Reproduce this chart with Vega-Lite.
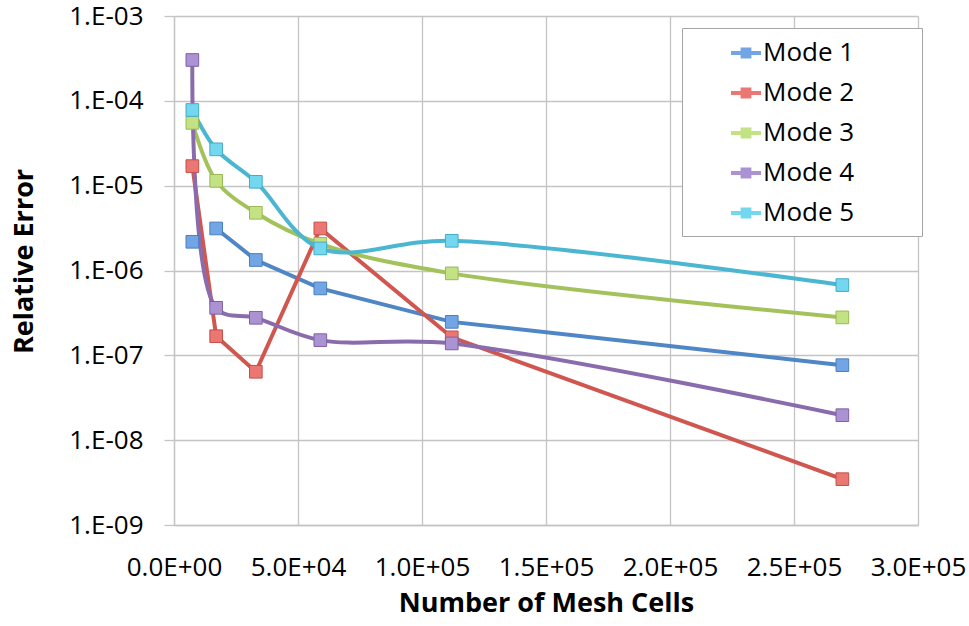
{
  "$schema": "https://vega.github.io/schema/vega-lite/v6.json",
  "width": 744,
  "height": 509,
  "autosize": {"type": "none"},
  "padding": {"left": 174, "top": 16, "right": 51, "bottom": 101},
  "background": "white",
  "config": {
    "view": {"stroke": null},
    "axis": {
      "labelFont": "Open Sans",
      "labelFontSize": 26,
      "labelColor": "black",
      "titleFont": "Open Sans",
      "titleFontSize": 27,
      "titleFontWeight": "bold",
      "titleColor": "black",
      "gridColor": "#c4c4c4",
      "gridWidth": 1.3,
      "gridOpacity": 1,
      "domainColor": "#c4c4c4",
      "domainWidth": 1.3,
      "tickColor": "#c4c4c4",
      "tickWidth": 1.3
    },
    "legend": {
      "title": null,
      "orient": "none",
      "legendX": 508,
      "legendY": 12,
      "padding": 10,
      "strokeColor": "#a6a6a6",
      "fillColor": "white",
      "labelFont": "Open Sans",
      "labelFontSize": 26,
      "labelColor": "black",
      "labelOffset": 2,
      "labelLimit": 400,
      "symbolType": "M-1,-0.13H-0.36V-0.36H0.36V-0.13H1V0.13H0.36V0.36H-0.36V0.13H-1Z",
      "symbolSize": 900,
      "symbolOffset": 39,
      "rowPadding": 12,
      "symbolStrokeWidth": 0
    }
  },
  "data": {
    "values": [
      {"mode": "Mode 1", "x": 7400, "y": 2.18e-6, "seg": "a"},
      {"mode": "Mode 1", "x": 17000, "y": 3.13e-6, "seg": "b"},
      {"mode": "Mode 1", "x": 33000, "y": 1.33e-6, "seg": "b"},
      {"mode": "Mode 1", "x": 59000, "y": 6.15e-7, "seg": "b"},
      {"mode": "Mode 1", "x": 112000, "y": 2.48e-7, "seg": "b"},
      {"mode": "Mode 1", "x": 269500, "y": 7.66e-8, "seg": "b"},
      {"mode": "Mode 2", "x": 7400, "y": 1.70e-5, "seg": "b"},
      {"mode": "Mode 2", "x": 17000, "y": 1.68e-7, "seg": "b"},
      {"mode": "Mode 2", "x": 33000, "y": 6.4e-8, "seg": "b"},
      {"mode": "Mode 2", "x": 59000, "y": 3.13e-6, "seg": "b"},
      {"mode": "Mode 2", "x": 112000, "y": 1.63e-7, "seg": "b"},
      {"mode": "Mode 2", "x": 269500, "y": 3.47e-9, "seg": "b"},
      {"mode": "Mode 3", "x": 7400, "y": 5.5e-5, "seg": "b"},
      {"mode": "Mode 3", "x": 17000, "y": 1.14e-5, "seg": "b"},
      {"mode": "Mode 3", "x": 33000, "y": 4.79e-6, "seg": "b"},
      {"mode": "Mode 3", "x": 59000, "y": 2.06e-6, "seg": "b"},
      {"mode": "Mode 3", "x": 112000, "y": 9.25e-7, "seg": "b"},
      {"mode": "Mode 3", "x": 269500, "y": 2.80e-7, "seg": "b"},
      {"mode": "Mode 4", "x": 7400, "y": 3.03e-4, "seg": "b"},
      {"mode": "Mode 4", "x": 17000, "y": 3.63e-7, "seg": "b"},
      {"mode": "Mode 4", "x": 33000, "y": 2.77e-7, "seg": "b"},
      {"mode": "Mode 4", "x": 59000, "y": 1.51e-7, "seg": "b"},
      {"mode": "Mode 4", "x": 112000, "y": 1.38e-7, "seg": "b"},
      {"mode": "Mode 4", "x": 269500, "y": 1.97e-8, "seg": "b"},
      {"mode": "Mode 5", "x": 7400, "y": 7.8e-5, "seg": "b"},
      {"mode": "Mode 5", "x": 17000, "y": 2.68e-5, "seg": "b"},
      {"mode": "Mode 5", "x": 33000, "y": 1.11e-5, "seg": "b"},
      {"mode": "Mode 5", "x": 59000, "y": 1.82e-6, "seg": "b"},
      {"mode": "Mode 5", "x": 112000, "y": 2.24e-6, "seg": "b"},
      {"mode": "Mode 5", "x": 269500, "y": 6.73e-7, "seg": "b"}
    ]
  },
  "encoding": {
    "x": {
      "field": "x",
      "type": "quantitative",
      "scale": {"domain": [0, 300000], "nice": false, "zero": false},
      "axis": {
        "title": "Number of Mesh Cells",
        "values": [0, 50000, 100000, 150000, 200000, 250000, 300000],
        "labelExpr": "replace(format(datum.value, '.1e'), 'e+', 'E+0')",
        "ticks": false,
        "labelPadding": 29,
        "titlePadding": 10,
        "labelFlush": false
      }
    },
    "y": {
      "field": "y",
      "type": "quantitative",
      "scale": {"type": "log", "domain": [1e-9, 1e-3], "nice": false},
      "axis": {
        "title": "Relative Error",
        "values": [1e-9, 1e-8, 1e-7, 1e-6, 1e-5, 1e-4, 1e-3],
        "labelExpr": "replace(format(datum.value, '.0e'), 'e-', '.E-0')",
        "tickSize": 10,
        "labelPadding": 21,
        "titlePadding": 30,
        "titleY": 245,
        "labelFlush": false
      }
    },
    "color": {
      "field": "mode",
      "type": "nominal",
      "scale": {
        "domain": ["Mode 1", "Mode 2", "Mode 3", "Mode 4", "Mode 5"],
        "range": ["#4f86c6", "#cf574f", "#a3c25c", "#8a6cad", "#4bb6d2"]
      },
      "legend": {
        "labelExpr": "datum.label + '\u2800\u2800\u2800'",
        "encode": {
          "symbols": {
            "update": {
              "fill": {"scale": "color", "field": "value"},
              "stroke": {"value": "transparent"},
              "opacity": {"value": 1}
            }
          }
        }
      }
    }
  },
  "layer": [
    {
      "transform": [{"filter": "datum.mode === 'Mode 1' || datum.mode === 'Mode 2'"}],
      "mark": {"type": "line", "interpolate": "linear", "strokeWidth": 4},
      "encoding": {"detail": {"field": "seg"}}
    },
    {
      "transform": [{"filter": "datum.mode !== 'Mode 1' && datum.mode !== 'Mode 2'"}],
      "mark": {"type": "line", "interpolate": "catmull-rom", "strokeWidth": 4},
      "encoding": {"detail": {"field": "seg"}}
    },
    {
      "mark": {"type": "point", "shape": "square", "filled": true, "size": 160, "strokeWidth": 1, "opacity": 1},
      "encoding": {
        "color": null,
        "fill": {
          "field": "mode",
          "type": "nominal",
          "scale": {
            "domain": ["Mode 1", "Mode 2", "Mode 3", "Mode 4", "Mode 5"],
            "range": ["#72a5e4", "#ea7772", "#c2e283", "#ab92d3", "#72d7ef"]
          },
          "legend": null
        },
        "stroke": {
          "field": "mode",
          "type": "nominal",
          "scale": {
            "domain": ["Mode 1", "Mode 2", "Mode 3", "Mode 4", "Mode 5"],
            "range": ["#4a7fbf", "#c5504b", "#98b954", "#7f62a2", "#45abc8"]
          },
          "legend": null
        }
      }
    }
  ]
}
